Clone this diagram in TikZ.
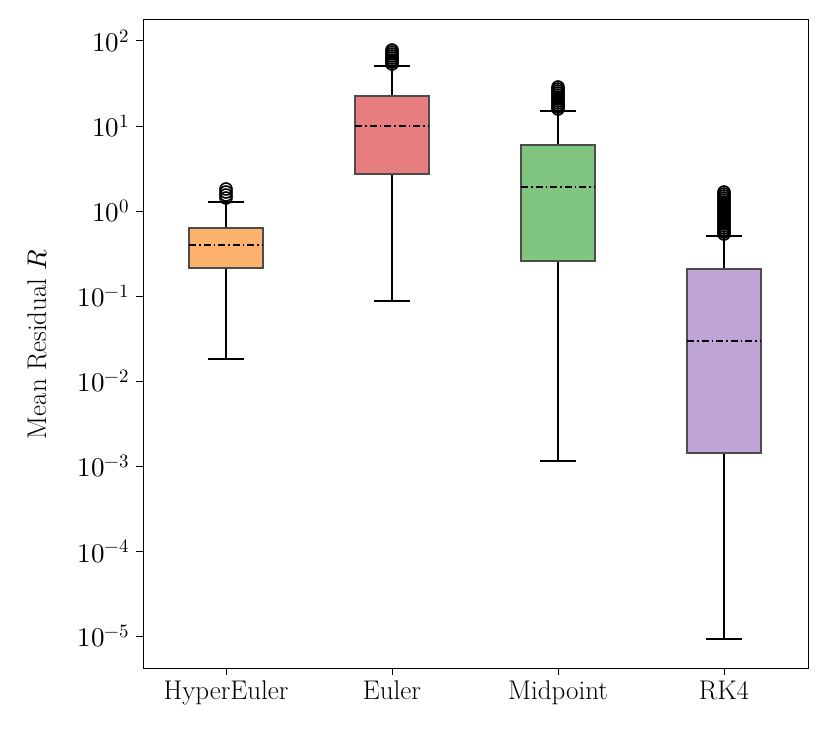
\documentclass[tikz,border=0pt]{standalone}
\usepackage{fontspec}
\usepackage{unicode-math}
\begin{document}
\begin{tikzpicture}[x=1pt,y=-1pt,line width=1.4pt,
  boxst/.style={draw=black!70,line width=1.4pt},
  med/.style={line width=1.4pt,dash pattern=on 7pt off 3pt on 1.5pt off 3pt},
  fl/.style={draw=black,line width=1.6pt},
  lab/.style={font=\fontsize{27}{32}\selectfont}]
\useasboundingbox (0,0) rectangle (829,741);
\definecolor{c1}{RGB}{255,178,110}
\definecolor{c2}{RGB}{230,125,126}
\definecolor{c3}{RGB}{128,198,128}
\definecolor{c4}{RGB}{190,164,215}
\foreach \x/\wt/\bt/\md/\bb/\wb/\c in {226/202/228/245/268/359/c1,392/66/96/126/174/301/c2,558/111/145/187/261/461/c3,724/236/269/341/453/639/c4}{
  \draw (\x,\wt) -- (\x,\bt);
  \draw (\x,\bb) -- (\x,\wb);
  \draw (\x-18,\wt) -- (\x+18,\wt);
  \draw (\x-18,\wb) -- (\x+18,\wb);
  \filldraw[boxst,fill=\c] (\x-37,\bt) rectangle (\x+37,\bb);
  \draw[med] (\x-37,\md) -- (\x+37,\md);
}
\foreach \y in {198,195,192,189} \draw[fl] (226,\y) circle (6);
\foreach \y in {64,62,...,49} \draw[fl] (392,\y) circle (6);
\foreach \y in {109,107,...,86} \draw[fl] (558,\y) circle (6);
\foreach \y in {234,232,...,191} \draw[fl] (724,\y) circle (6);
\draw[line width=1pt] (143,20) rectangle (808,668);
\foreach \y/\e in {41/2,126/1,211/0,296/-1,381/-2,466/-3,551/-4,636/-5}{
  \draw[line width=1pt] (143,\y) -- (136,\y);
  \node[lab,anchor=east,inner sep=3pt] (t\y) at (133,\y) {$10^{\e}$};
}
\foreach \x/\t in {226/HyperEuler,392/Euler,558/Midpoint,724/RK4}{
  \draw[line width=1pt] (\x,668) -- (\x,675);
  \node[lab,anchor=north,inner sep=2pt] (x\x) at (\x,678) {\t};
}
\node[lab,rotate=90] (yl) at (37,344) {Mean Residual $R$};
\end{tikzpicture}
\end{document}
